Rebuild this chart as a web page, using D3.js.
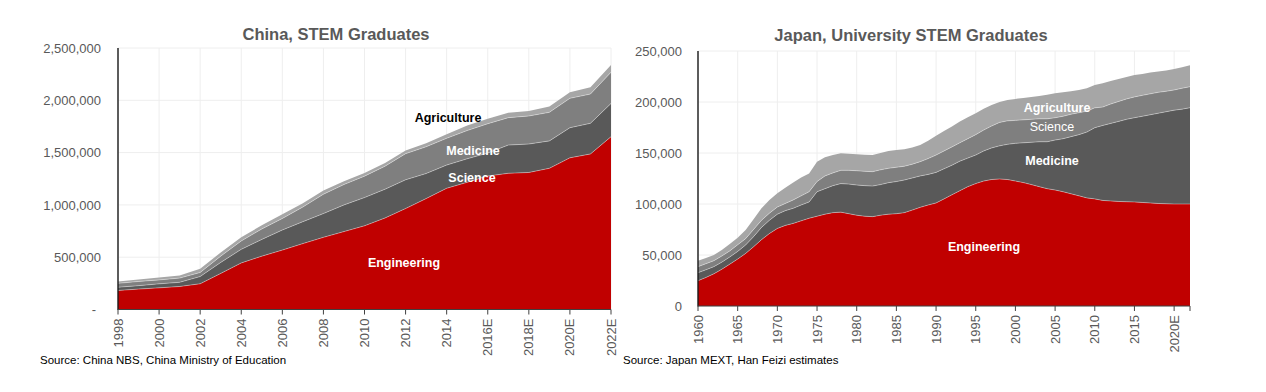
<!DOCTYPE html>
<html>
<head>
<meta charset="utf-8">
<script src="https://cdn.jsdelivr.net/npm/d3@7"></script>
<style>
  body { margin: 0; background: #fff; }
  svg { font-family: "Liberation Sans", Arial, sans-serif; }
</style>
</head>
<body>
<svg id="chart" width="1266" height="392"></svg>
<script>
// all values in thousands of graduates

// --- China ---
const chinaYears = [1998, 1999, 2000, 2001, 2002, 2003, 2004, 2005, 2006, 2007, 2008, 2009, 2010,
  2011, 2012, 2013, 2014, 2015, 2016, 2017, 2018, 2019, 2020, 2021, 2022];
const chinaEngineering = [182, 195, 207, 220, 246, 345, 445, 510, 568, 630, 690, 745, 800,
  875, 965, 1060, 1159, 1216, 1276, 1302, 1310, 1350, 1450, 1487, 1652];
const chinaScience = [31, 33, 38, 40, 69, 105, 130, 160, 192, 210, 227, 255, 270,
  275, 275, 240, 222, 225, 220, 270, 272, 262, 288, 293, 318];
const chinaMedicine = [37, 40, 38, 40, 39, 60, 80, 100, 110, 140, 185, 195, 205,
  220, 250, 256, 256, 270, 280, 262, 268, 273, 281, 280, 298];
const chinaAgriculture = [18, 20, 22, 25, 36, 35, 35, 35, 40, 35, 35, 30, 30,
  30, 30, 33, 38, 48, 48, 48, 48, 55, 58, 65, 70];
const chinaTicks = [1998, 2000, 2002, 2004, 2006, 2008, 2010, 2012, 2014, 2016, 2018, 2020, 2022];
const chinaTickLabels = ["1998", "2000", "2002", "2004", "2006", "2008", "2010", "2012", "2014",
  "2016E", "2018E", "2020E", "2022E"];
const chinaYTicks = [0, 500, 1000, 1500, 2000, 2500];

// --- Japan ---
const japanYears = [1960, 1961, 1962, 1963, 1964, 1965, 1966, 1967, 1968, 1969,
  1970, 1971, 1972, 1973, 1974, 1975, 1976, 1977, 1978, 1979,
  1980, 1981, 1982, 1983, 1984, 1985, 1986, 1987, 1988, 1989,
  1990, 1991, 1992, 1993, 1994, 1995, 1996, 1997, 1998, 1999,
  2000, 2001, 2002, 2003, 2004, 2005, 2006, 2007, 2008, 2009,
  2010, 2011, 2012, 2013, 2014, 2015, 2016, 2017, 2018, 2019,
  2020, 2021, 2022];
const japanEngineering = [24.8, 28, 31.5, 36, 41, 46, 51.5, 58, 65, 71,
  76, 79, 81, 83.5, 86, 88, 90, 91.5, 92, 90.5,
  89, 88, 87.6, 89, 90, 90.5, 91.5, 94, 96.7, 99,
  101, 105, 109, 113, 117, 120, 122.5, 124, 124.5, 124,
  122.5, 121, 119, 117, 115, 113.7, 112, 110, 108, 106,
  105, 103.5, 103, 102.5, 102.2, 102, 101.5, 101, 100.5, 100.2,
  100, 100, 100];
const japanMedicine = [7.9, 7.5, 7.1, 7, 7, 7.5, 8.3, 10, 12, 13,
  14, 14.5, 14.8, 15.5, 16, 24, 25, 26.5, 28, 29,
  29.6, 30, 30, 30, 30.9, 31.5, 32, 31.5, 30.8, 30,
  30, 29.5, 29, 29, 28, 28, 29.5, 31, 32.5, 34.5,
  37, 39, 41.5, 44, 46, 49, 52, 56, 60, 64.5,
  69.8, 73.5, 76, 78.5, 80.8, 82.6, 84.5, 86.5, 88.5, 90.3,
  92, 93, 94.4];
const japanScience = [5.9, 6, 5.8, 6, 6, 6.5, 6.2, 7, 7, 7,
  7, 7, 8.2, 9, 10, 10, 12.5, 12.5, 13, 13.5,
  14, 14, 14.1, 14.5, 14.1, 14, 13.5, 13.5, 14, 15.5,
  17, 17.5, 18, 18, 19, 20, 20.5, 21.5, 23, 23,
  22.5, 22.5, 22.5, 22.5, 22.5, 21.9, 22, 22, 21.5, 20.5,
  19.5, 18, 19, 19.5, 20, 20.4, 20.5, 20.5, 20.5, 20,
  19.8, 20.5, 20.6];
const japanAgriculture = [5.8, 5.5, 5.6, 6, 6.8, 7, 8.5, 10, 11.8, 13,
  13.5, 15.5, 17, 18, 18, 19.5, 18.3, 17.5, 16.7, 16.2,
  16.1, 16.2, 16.3, 16.5, 17, 17, 16.6, 16.5, 16.3, 17.5,
  19, 19.5, 20, 21, 21, 21, 21, 20.5, 20, 20.5,
  21, 21.5, 22, 22.5, 23.5, 23.9, 23.5, 22.5, 22.3, 22.5,
  22.4, 23.5, 22.5, 22, 21.5, 21.5, 21, 21, 20.5, 20.5,
  20.6, 20.5, 21];
const japanTicks = [1960, 1965, 1970, 1975, 1980, 1985, 1990, 1995, 2000, 2005, 2010, 2015, 2020];
const japanTickLabels = ["1960", "1965", "1970", "1975", "1980", "1985", "1990", "1995",
  "2000", "2005", "2010", "2015", "2020E"];
const japanYTicks = [0, 50, 100, 150, 200, 250];

const svg = d3.select("#chart");
const fmt = d3.format(",");

function drawPanel(p) {
  const g = svg.append("g");
  const x = d3.scaleLinear().domain(d3.extent(p.years)).range([p.left, p.right]);
  const y = d3.scaleLinear().domain([0, p.yMax]).range([p.bottom, p.top]);

  // gridlines
  g.selectAll(".hg").data(p.yTicks).enter().append("line")
    .attr("x1", p.left).attr("x2", p.right)
    .attr("y1", d => y(d)).attr("y2", d => y(d))
    .attr("stroke", "#eeeeee").attr("stroke-width", 1);
  g.selectAll(".vg").data(p.ticks).enter().append("line")
    .attr("x1", d => x(d)).attr("x2", d => x(d))
    .attr("y1", p.top).attr("y2", p.bottom)
    .attr("stroke", "#eeeeee").attr("stroke-width", 1);

  // stacked areas
  const rows = p.years.map((yr, i) => {
    const r = { year: yr };
    p.series.forEach(s => { r[s.key] = s.values[i]; });
    return r;
  });
  const stack = d3.stack().keys(p.series.map(s => s.key));
  const layers = stack(rows);
  const area = d3.area().x(d => x(d.data.year)).y0(d => y(d[0])).y1(d => y(d[1]));
  const edge = d3.line().x(d => x(d.data.year)).y(d => y(d[1]));
  g.selectAll(".layer").data(layers).enter().append("path")
    .attr("d", area)
    .attr("fill", (d, i) => p.series[i].color);
  g.selectAll(".edge").data(layers.slice(0, -1)).enter().append("path")
    .attr("d", edge)
    .attr("fill", "none")
    .attr("stroke", "rgba(255,255,255,0.45)")
    .attr("stroke-width", 0.8);

  // axes
  g.append("line").attr("x1", p.left).attr("x2", p.left)
    .attr("y1", p.top).attr("y2", p.bottom + 0.5)
    .attr("stroke", "#1a1a1a").attr("stroke-width", 1.4);
  g.append("line").attr("x1", p.left).attr("x2", p.right)
    .attr("y1", p.bottom).attr("y2", p.bottom)
    .attr("stroke", "#404040").attr("stroke-width", 1.2);
  g.selectAll(".xt").data(p.ticks).enter().append("line")
    .attr("x1", d => x(d)).attr("x2", d => x(d))
    .attr("y1", p.bottom).attr("y2", p.bottom + 5)
    .attr("stroke", "#404040").attr("stroke-width", 1);
  if (p.ticks[p.ticks.length - 1] !== p.years[p.years.length - 1]) {
    g.append("line").attr("x1", p.right).attr("x2", p.right)
      .attr("y1", p.bottom).attr("y2", p.bottom + 5)
      .attr("stroke", "#404040");
  }

  // y labels
  g.selectAll(".yl").data(p.yTicks).enter().append("text")
    .attr("x", d => d === 0 ? p.zeroX : p.labelX)
    .attr("y", d => y(d)).attr("dy", "0.36em")
    .attr("text-anchor", "end")
    .attr("font-size", 13).attr("fill", "#595959")
    .text(d => d === 0 ? p.zeroLabel : fmt(d * 1000));

  // x labels, rotated
  g.selectAll(".xl").data(p.ticks).enter().append("text")
    .attr("transform", d => `translate(${x(d) + 4.5},${p.bottom + 9}) rotate(-90)`)
    .attr("text-anchor", "end")
    .attr("font-size", 13).attr("fill", "#595959")
    .text((d, i) => p.tickLabels[i]);

  // title
  g.append("text").attr("x", p.titleX).attr("y", p.titleY)
    .attr("text-anchor", "middle").attr("font-size", 16.5).attr("font-weight", "bold")
    .attr("fill", "#595959").text(p.title);

  // source
  g.append("text").attr("x", p.sourceX).attr("y", 364)
    .attr("font-size", 11.5).attr("fill", "#000").text(p.source);

  // series labels
  p.labels.forEach(l => {
    g.append("text").attr("x", l.x).attr("y", l.y).attr("dy", "0.36em")
      .attr("text-anchor", "middle").attr("font-size", 12.5)
      .attr("font-weight", l.bold === false ? "normal" : "bold")
      .attr("fill", l.color).text(l.text);
  });
}

drawPanel({
  years: chinaYears,
  series: [
    { key: "Engineering", values: chinaEngineering, color: "#C00000" },
    { key: "Science", values: chinaScience, color: "#595959" },
    { key: "Medicine", values: chinaMedicine, color: "#7F7F7F" },
    { key: "Agriculture", values: chinaAgriculture, color: "#A6A6A6" }
  ],
  left: 118, right: 611, top: 48, bottom: 309.5,
  yMax: 2500, yTicks: chinaYTicks, labelX: 101, zeroX: 96, zeroLabel: "-",
  ticks: chinaTicks, tickLabels: chinaTickLabels,
  title: "China, STEM Graduates", titleX: 336, titleY: 40,
  source: "Source: China NBS, China Ministry of Education", sourceX: 40,
  labels: [
    { text: "Agriculture", x: 448, y: 117, color: "#000" },
    { text: "Medicine", x: 473, y: 150, color: "#fff" },
    { text: "Science", x: 472, y: 177, color: "#fff" },
    { text: "Engineering", x: 404, y: 262, color: "#fff" }
  ]
});

drawPanel({
  years: japanYears,
  series: [
    { key: "Engineering", values: japanEngineering, color: "#C00000" },
    { key: "Medicine", values: japanMedicine, color: "#595959" },
    { key: "Science", values: japanScience, color: "#7F7F7F" },
    { key: "Agriculture", values: japanAgriculture, color: "#A6A6A6" }
  ],
  left: 698, right: 1190, top: 51, bottom: 306,
  yMax: 250, yTicks: japanYTicks, labelX: 682, zeroX: 682, zeroLabel: "0",
  ticks: japanTicks, tickLabels: japanTickLabels,
  title: "Japan, University STEM Graduates", titleX: 911, titleY: 41,
  source: "Source: Japan MEXT, Han Feizi estimates", sourceX: 623,
  labels: [
    { text: "Agriculture", x: 1057, y: 107, color: "#fff" },
    { text: "Science", x: 1052, y: 126, color: "#fff", bold: false },
    { text: "Medicine", x: 1052, y: 160, color: "#fff" },
    { text: "Engineering", x: 984, y: 246, color: "#fff" }
  ]
});
</script>
</body>
</html>
